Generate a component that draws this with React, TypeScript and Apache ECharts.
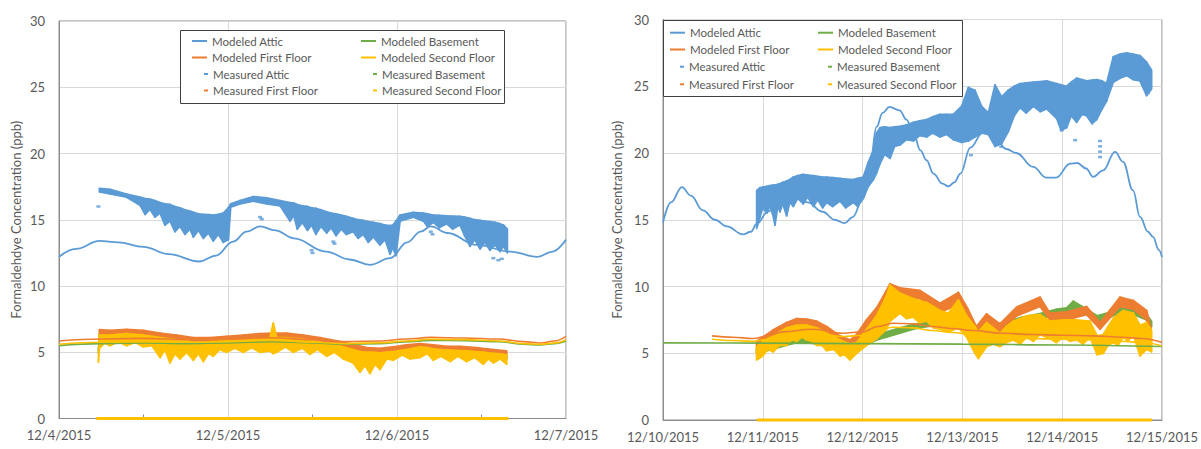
import React, { useEffect, useRef } from "react";
import * as echarts from "echarts";

// ---------- shared ----------
const seriesNames = [
  "Modeled Attic", "Modeled Basement", "Modeled First Floor", "Modeled Second Floor",
  "Measured Attic", "Measured Basement", "Measured First Floor", "Measured Second Floor",
];
const yAxisTitle = "Formaldehdye Concentration (ppb)";
const leftXTickLabels = ["12/4/2015", "12/5/2015", "12/6/2015", "12/7/2015"];
const rightXTickLabels = ["12/10/2015", "12/11/2015", "12/12/2015", "12/13/2015", "12/14/2015", "12/15/2015"];

// ---------- LEFT chart (x = day of Dec 2015) ----------
const modeledAtticL = [[4.0,12.2],[4.1,12.8],[4.24,13.4],[4.35,13.3],[4.5,12.95],[4.65,12.4],[4.83,11.85],[4.93,12.3],[5.03,13.35],[5.11,14.1],[5.19,14.5],[5.28,14.2],[5.39,13.6],[5.58,12.6],[5.72,12.0],[5.84,11.6],[5.96,12.1],[6.06,13.3],[6.14,14.1],[6.2,14.5],[6.3,14.0],[6.47,13.1],[6.67,12.6],[6.83,12.2],[6.92,12.6],[7.0,13.5]];
const modeledBasementL = [[4.0,5.5],[4.25,5.65],[4.5,5.7],[4.75,5.65],[5.0,5.7],[5.25,5.8],[5.5,5.7],[5.7,5.6],[5.9,5.65],[6.05,5.78],[6.2,5.9],[6.4,5.88],[6.6,5.8],[6.75,5.6],[6.85,5.55],[6.93,5.65],[7.0,5.85]];
const modeledFirstL = [[4.0,5.85],[4.25,6.0],[4.5,6.05],[4.75,5.95],[5.0,6.0],[5.25,6.1],[5.5,5.95],[5.7,5.8],[5.9,5.85],[6.05,6.0],[6.2,6.12],[6.4,6.08],[6.6,6.0],[6.75,5.8],[6.85,5.7],[6.93,5.85],[7.0,6.2]];
const modeledSecondL = [[4.0,5.6],[4.25,5.75],[4.5,5.8],[4.75,5.75],[5.0,5.8],[5.25,5.9],[5.5,5.75],[5.7,5.65],[5.9,5.72],[6.05,5.85],[6.2,5.98],[6.4,5.95],[6.6,5.85],[6.75,5.65],[6.85,5.6],[6.93,5.7],[7.0,5.95]];

// measured: [day, high, low]
const measuredAtticL = [[4.239,17.37,17.1],[4.302,17.3,16.95],[4.40,16.94,16.7],[4.479,16.7,16.1],[4.51,16.6,15.4],[4.538,16.55,15.8],[4.568,16.45,15.2],[4.598,16.3,15.5],[4.627,16.2,14.6],[4.657,16.15,14.9],[4.686,16.0,14.1],[4.716,15.9,14.5],[4.745,15.75,13.9],[4.775,15.65,14.3],[4.795,15.55,13.7],[4.825,15.45,14.2],[4.854,15.4,13.6],[4.884,15.38,14.0],[4.913,15.35,13.4],[4.943,15.4,13.9],[4.972,15.5,13.3],[5.002,15.9,13.5],[5.016,16.2,15.95],[5.071,16.45,16.2],[5.15,16.75,16.4],[5.229,16.65,16.2],[5.308,16.45,16.05],[5.367,16.3,14.9],[5.39,16.25,15.3],[5.41,16.15,14.3],[5.44,16.05,14.8],[5.47,16.0,14.2],[5.495,15.9,14.6],[5.52,15.85,13.9],[5.55,15.75,14.5],[5.584,15.6,14.0],[5.61,15.5,14.4],[5.64,15.45,13.8],[5.67,15.35,14.3],[5.70,15.25,13.9],[5.741,15.1,14.1],[5.77,15.0,13.6],[5.80,14.95,13.9],[5.83,14.85,13.3],[5.86,14.8,13.7],[5.899,14.7,13.1],[5.93,14.6,13.5],[5.959,14.55,12.4],[5.975,14.6,12.9],[5.994,14.9,12.3],[6.018,15.35,14.9],[6.097,15.55,15.2],[6.156,15.5,14.9],[6.18,15.45,14.5],[6.215,15.35,14.8],[6.25,15.33,14.4],[6.294,15.3,14.7],[6.33,15.28,14.3],[6.373,15.25,14.6],[6.40,15.2,13.8],[6.432,15.1,13.0],[6.46,15.0,13.5],[6.491,14.95,12.8],[6.52,14.9,13.3],[6.55,14.85,12.7],[6.58,14.8,13.1],[6.609,14.7,12.6],[6.63,14.6,13.0],[6.653,14.3,12.5]];
const atticOutliersL = [[4.233,16.0],[5.19,15.2],[5.2,15.05],[5.495,12.7],[5.5,12.5],[5.623,13.35],[5.63,13.2],[6.2,14.1],[6.21,13.9],[6.57,12.1],[6.6,11.95],[6.62,12.05]];
const measuredBasementL = [[4.233,5.2,4.95],[4.24,6.3,6.0],[4.4,6.35,6.1],[4.6,6.1,5.85],[4.8,5.75,5.5],[5.0,5.85,5.6],[5.2,6.0,5.75],[5.35,6.05,5.8],[5.55,5.7,5.45],[5.75,5.25,5.0],[5.9,4.95,4.7],[6.05,5.2,4.95],[6.2,5.2,4.95],[6.4,5.1,4.85],[6.65,4.75,4.5]];
const measuredFirstL = [[4.239,6.7,6.2],[4.302,6.65,6.3],[4.40,6.72,6.35],[4.499,6.65,6.3],[4.598,6.45,6.1],[4.696,6.3,5.95],[4.795,6.1,5.75],[4.893,6.1,5.8],[4.992,6.2,5.85],[5.091,6.3,5.95],[5.189,6.4,6.0],[5.268,6.45,6.05],[5.347,6.45,6.05],[5.446,6.3,5.9],[5.544,6.1,5.7],[5.643,5.85,5.5],[5.741,5.6,5.25],[5.82,5.35,5.0],[5.899,5.3,4.95],[5.978,5.4,5.05],[6.057,5.55,5.2],[6.136,5.65,5.3],[6.215,5.55,5.2],[6.294,5.45,5.1],[6.373,5.45,5.1],[6.471,5.35,5.0],[6.57,5.2,4.85],[6.649,5.1,4.75]];
const measuredSecondL = [[4.233,4.45,4.25],[4.239,6.3,5.3],[4.27,6.3,5.7],[4.302,6.3,5.5],[4.35,6.35,5.8],[4.40,6.4,5.5],[4.45,6.35,5.75],[4.499,6.3,5.4],[4.55,6.2,5.5],[4.598,6.1,4.6],[4.627,6.05,5.2],[4.657,6.0,4.2],[4.686,5.95,4.9],[4.716,5.9,4.5],[4.755,5.85,5.0],[4.795,5.75,4.4],[4.825,5.75,4.9],[4.854,5.75,4.3],[4.884,5.78,4.9],[4.913,5.8,4.7],[4.95,5.82,5.2],[4.992,5.85,5.0],[5.04,5.9,5.3],[5.091,5.95,5.0],[5.14,6.0,5.35],[5.189,6.05,5.0],[5.248,6.1,5.1],[5.268,7.2,4.9],[5.288,6.1,5.0],[5.34,6.1,5.4],[5.387,6.05,5.0],[5.44,6.0,5.3],[5.485,5.9,4.85],[5.53,5.8,5.2],[5.584,5.65,4.7],[5.63,5.55,5.0],[5.682,5.4,4.5],[5.741,5.2,4.2],[5.781,5.05,3.5],[5.81,5.0,4.0],[5.84,5.0,3.4],[5.87,4.98,4.1],[5.899,4.95,3.7],[5.94,5.0,4.5],[5.978,5.05,4.4],[6.03,5.15,4.8],[6.077,5.25,4.5],[6.136,5.4,4.6],[6.18,5.35,4.9],[6.215,5.25,4.4],[6.26,5.2,4.7],[6.314,5.15,4.3],[6.36,5.12,4.7],[6.412,5.1,4.3],[6.46,5.05,4.6],[6.511,5.0,4.1],[6.54,4.95,4.5],[6.57,4.92,4.2],[6.61,4.88,4.5],[6.649,4.8,4.1]];
const zeroRunL = [[4.22,0],[6.66,0]];

// ---------- RIGHT chart ----------
const modeledAtticR = [[10.0,14.8],[10.08,16.3],[10.19,17.45],[10.28,16.8],[10.4,15.7],[10.52,15.0],[10.64,14.5],[10.8,13.9],[10.88,14.1],[10.94,14.7],[11.05,15.6],[11.15,16.2],[11.3,16.8],[11.45,16.3],[11.6,15.6],[11.72,15.0],[11.82,14.75],[11.9,15.2],[12.01,16.7],[12.08,19.5],[12.14,21.95],[12.2,23.0],[12.27,23.45],[12.37,23.2],[12.44,22.5],[12.51,21.46],[12.58,20.2],[12.64,19.46],[12.71,18.46],[12.8,17.7],[12.86,17.5],[12.92,17.8],[12.98,18.46],[13.08,20.4],[13.2,21.5],[13.31,21.3],[13.44,20.3],[13.54,20.0],[13.71,18.96],[13.84,18.16],[13.94,18.16],[14.08,19.2],[14.15,19.25],[14.24,18.84],[14.31,18.21],[14.41,18.7],[14.53,20.08],[14.61,19.34],[14.71,17.2],[14.78,15.22],[14.86,14.1],[14.91,13.72],[14.97,12.72],[15.0,12.2]];
const modeledBasementR = [[10.0,5.78],[11.0,5.76],[12.0,5.72],[13.0,5.68],[14.0,5.62],[15.0,5.5]];
const modeledFirstR = [[10.49,6.3],[10.7,6.2],[10.9,6.1],[11.05,6.3],[11.2,6.6],[11.5,6.8],[11.8,6.5],[12.0,6.6],[12.15,7.0],[12.3,7.25],[12.5,7.2],[12.7,7.0],[12.9,6.85],[13.1,6.7],[13.4,6.5],[13.7,6.4],[14.0,6.35],[14.3,6.3],[14.6,6.2],[14.8,6.1],[15.0,5.8]];
const modeledSecondR = [[10.49,6.05],[10.7,5.95],[10.9,5.9],[11.05,6.05],[11.2,6.35],[11.5,6.55],[11.8,6.25],[12.0,6.35],[12.15,6.7],[12.3,6.95],[12.5,6.9],[12.7,6.7],[12.9,6.55],[13.1,6.4],[13.4,6.2],[13.7,6.1],[14.0,6.05],[14.3,6.0],[14.6,5.9],[14.8,5.8],[15.0,5.55]];

const measuredAtticR = [[10.939,17.2,14.35],[10.972,17.4,15.2],[11.0,17.45,15.9],[11.039,17.5,15.5],[11.07,17.55,16.0],[11.1,17.6,15.4],[11.122,17.6,14.6],[11.15,17.65,16.0],[11.172,17.7,15.6],[11.2,17.8,16.2],[11.239,17.9,15.3],[11.27,18.0,16.3],[11.306,18.2,16.0],[11.35,18.3,16.6],[11.406,18.4,16.2],[11.45,18.35,16.7],[11.507,18.3,16.0],[11.55,18.25,16.5],[11.6,18.2,15.9],[11.64,18.2,16.3],[11.7,18.15,16.0],[11.774,18.1,16.4],[11.83,18.05,15.9],[11.907,18.0,16.3],[11.95,18.1,16.0],[12.007,18.2,16.6],[12.057,19.3,17.5],[12.108,20.2,18.0],[12.14,21.5,18.5],[12.175,21.9,19.2],[12.22,21.95,19.9],[12.275,21.9,19.6],[12.32,21.95,20.5],[12.375,22.0,20.6],[12.44,22.1,21.0],[12.509,22.3,20.9],[12.57,22.4,21.3],[12.642,22.5,21.2],[12.7,22.7,21.5],[12.776,22.9,21.2],[12.84,22.9,21.4],[12.909,22.9,21.0],[12.993,23.5,20.8],[13.06,24.9,20.9],[13.126,24.7,21.2],[13.193,23.5,21.5],[13.26,23.0,21.4],[13.327,25.1,20.5],[13.394,24.2,20.7],[13.46,24.7,21.6],[13.52,25.0,22.8],[13.577,25.2,23.4],[13.64,25.25,23.0],[13.711,25.3,23.5],[13.78,25.35,23.1],[13.844,25.4,23.3],[13.944,25.2,22.6],[13.99,25.1,21.7],[14.045,25.0,21.9],[14.09,25.3,22.8],[14.145,25.6,22.3],[14.2,25.5,22.9],[14.245,25.4,22.8],[14.3,25.45,22.2],[14.345,25.5,22.5],[14.4,25.4,23.3],[14.445,25.2,23.9],[14.512,27.2,25.3],[14.58,27.4,25.6],[14.646,27.5,25.8],[14.71,27.4,25.5],[14.78,27.3,25.4],[14.846,26.8,24.3],[14.896,26.2,24.8]];
const atticOutliersR = [[13.086,19.84],[13.39,20.46],[13.995,21.7],[14.13,20.96],[14.38,20.9],[14.38,20.5],[14.38,20.1],[14.38,19.7],[14.86,24.5]];
const measuredBasementR = [[10.938,5.3,5.0],[11.105,5.6,5.3],[11.239,5.9,5.6],[11.339,6.1,5.8],[11.44,6.1,5.8],[11.54,6.0,5.7],[11.64,5.9,5.55],[11.774,5.6,5.3],[11.874,5.4,5.1],[11.94,5.6,5.3],[12.04,5.95,5.65],[12.14,6.3,6.0],[12.24,6.6,6.2],[12.374,6.9,6.5],[12.508,7.15,6.8],[12.642,7.35,7.0],[12.776,7.45,7.1],[12.9,7.3,6.9],[13.043,7.2,6.8],[13.2,7.0,6.6],[13.4,7.3,6.9],[13.6,7.7,7.3],[13.8,8.0,7.6],[13.95,8.3,7.9],[14.045,8.4,8.0],[14.112,8.9,8.2],[14.2,8.5,8.1],[14.35,7.8,7.4],[14.45,8.0,7.6],[14.6,8.5,8.1],[14.713,8.3,7.9],[14.846,7.9,7.5],[14.896,7.4,7.0]];
const measuredFirstR = [[10.938,5.9,5.0],[11.105,6.75,6.2],[11.239,7.3,6.8],[11.339,7.6,7.1],[11.44,7.55,7.0],[11.54,7.4,6.9],[11.64,7.0,6.5],[11.774,6.3,5.8],[11.874,6.0,5.4],[11.94,6.4,5.8],[12.04,7.5,6.9],[12.14,8.4,7.9],[12.24,9.7,9.0],[12.274,10.2,9.3],[12.374,9.9,9.3],[12.575,9.7,9.1],[12.776,8.75,8.1],[12.96,9.55,8.6],[13.05,8.4,7.6],[13.14,7.0,6.3],[13.243,7.95,7.3],[13.377,7.2,6.6],[13.544,8.45,7.8],[13.778,9.2,8.5],[13.878,8.0,7.5],[14.045,8.1,7.5],[14.245,8.5,7.9],[14.38,7.3,6.8],[14.58,9.2,8.5],[14.713,8.95,8.3],[14.846,8.2,7.5],[14.89,6.9,6.4]];
const measuredSecondR = [[10.938,5.5,4.5],[11.0,5.9,4.8],[11.05,6.1,5.3],[11.105,6.3,5.1],[11.17,6.6,5.6],[11.239,6.9,5.6],[11.29,7.0,6.0],[11.339,7.1,5.9],[11.39,7.1,6.2],[11.44,7.1,6.0],[11.49,7.0,5.9],[11.54,6.9,5.6],[11.59,6.7,5.6],[11.64,6.5,5.2],[11.71,6.25,5.3],[11.774,6.0,4.8],[11.82,5.85,4.9],[11.874,5.7,4.5],[11.94,5.8,5.0],[12.04,6.8,5.6],[12.14,7.8,6.1],[12.24,9.3,6.8],[12.274,10.1,7.4],[12.374,9.5,8.0],[12.44,9.3,7.6],[12.508,9.1,7.7],[12.57,8.95,7.3],[12.642,8.8,7.4],[12.71,8.5,6.9],[12.776,8.2,6.8],[12.86,8.0,6.6],[12.96,9.0,6.9],[13.043,7.8,6.2],[13.126,7.0,5.0],[13.16,6.6,4.6],[13.243,7.3,5.5],[13.31,6.9,5.7],[13.377,6.5,5.5],[13.44,7.0,5.8],[13.51,7.4,6.0],[13.58,7.6,5.7],[13.644,7.8,6.2],[13.71,7.85,5.9],[13.778,7.9,6.4],[13.878,7.4,6.1],[13.94,7.45,5.8],[14.011,7.5,6.2],[14.08,7.5,5.9],[14.145,7.5,6.0],[14.21,7.45,5.7],[14.279,7.4,6.2],[14.35,6.3,4.9],[14.412,6.4,5.0],[14.46,7.0,5.6],[14.512,7.6,5.8],[14.56,7.9,5.6],[14.613,8.2,6.2],[14.66,8.1,5.9],[14.713,8.0,6.4],[14.78,7.1,4.8],[14.846,7.3,5.3],[14.896,6.7,5.1]];
const zeroRunR = [[10.94,0],[14.9,0]];

// ---------- styling ----------
const FONT = "Lato, 'Open Sans', sans-serif";
const TEXT = "#595959";
const GRIDLINE = "#d9d9d9";
const FRAME = "#8c8c8c";
const COLORS = ["#5B9BD5", "#70AD47", "#ED7D31", "#FFC000", "#5B9BD5", "#70AD47", "#ED7D31", "#FFC000"];

function bandItems(arr: number[][]) {
  const out: number[][] = [];
  for (let i = 0; i < arr.length - 1; i++) {
    out.push([arr[i][0], arr[i][1], arr[i][2], arr[i + 1][0], arr[i + 1][1], arr[i + 1][2]]);
  }
  return out;
}

function bandSeries(name: string, color: string, arr: number[][], idx: number) {
  return {
    type: "custom", name, xAxisIndex: idx, yAxisIndex: idx, silent: true,
    itemStyle: { color },
    data: bandItems(arr),
    encode: { x: [0, 3], y: [1, 2, 4, 5] },
    renderItem: (_p: any, api: any) => {
      const a = api.coord([api.value(0), api.value(1)]);
      const b = api.coord([api.value(3), api.value(4)]);
      const c = api.coord([api.value(3), api.value(5)]);
      const d = api.coord([api.value(0), api.value(2)]);
      return { type: "polygon", shape: { points: [a, b, c, d] }, style: { fill: color, stroke: color, lineWidth: 1.8, lineJoin: "round" } };
    },
  };
}

function lineSeries(name: string, color: string, data: number[][], idx: number, width = 1.6) {
  return {
    type: "line", name, xAxisIndex: idx, yAxisIndex: idx, data, silent: true,
    symbol: "none", showSymbol: false, smooth: 0.4, smoothMonotone: "x",
    lineStyle: { color, width }, itemStyle: { color },
  };
}

function scatterSeries(name: string, color: string, data: number[][], idx: number) {
  return {
    type: "scatter", name, xAxisIndex: idx, yAxisIndex: idx, data, silent: true,
    symbol: "rect", symbolSize: [4, 2.5], itemStyle: { color },
  };
}

function zeroSeries(data: number[][], idx: number) {
  return {
    type: "line", name: "zero", xAxisIndex: idx, yAxisIndex: idx, data, silent: true, clip: false,
    symbol: "none", lineStyle: { color: "#FFC000", width: 3 }, z: 3,
  };
}

function legendItems(cols: number[][], rows: number[]) {
  const out: any[] = [];
  seriesNames.forEach((name, i) => {
    const col = i % 2;
    const row = Math.floor(i / 2);
    const measured = i >= 4;
    out.push({
      show: true, selectedMode: false, padding: 0, itemGap: 0,
      data: [name], icon: "rect",
      itemWidth: measured ? 4 : 15, itemHeight: 2,
      left: measured ? cols[col][1] : cols[col][0],
      top: rows[row] - 6,
      textStyle: { color: TEXT, fontSize: 11.5, fontFamily: FONT },
    });
  });
  return out;
}

function xAxis(idx: number, min: number, max: number, labels: string[], minor: boolean) {
  return {
    type: "value", gridIndex: idx, min, max, interval: 1,
    axisLine: { show: true, lineStyle: { color: FRAME, width: 1 } },
    axisTick: { show: false, inside: true },
    minorTick: { show: minor, splitNumber: 2, length: 4, lineStyle: { color: FRAME } },
    splitLine: { show: true, lineStyle: { color: GRIDLINE, width: 1 } },
    axisLabel: {
      color: TEXT, fontSize: 13, fontFamily: FONT, margin: 10,
      showMinLabel: true, showMaxLabel: true,
      formatter: (v: number) => labels[Math.round(v - min)] ?? "",
    },
  };
}

function yAxis(idx: number, nameGap: number) {
  return {
    type: "value", gridIndex: idx, min: 0, max: 30, interval: 5,
    name: yAxisTitle, nameLocation: "middle", nameGap,
    nameTextStyle: { color: TEXT, fontSize: 13, fontFamily: FONT },
    axisLine: { show: true, lineStyle: { color: FRAME, width: 1 } },
    axisTick: { show: false },
    splitLine: { show: true, lineStyle: { color: GRIDLINE, width: 1 } },
    axisLabel: { color: TEXT, fontSize: 13, fontFamily: FONT, margin: 14 },
  };
}

function chartSeries(idx: number, sets: any) {
  return [
    lineSeries(seriesNames[0], COLORS[0], sets.mA, idx, 1.8),
    lineSeries(seriesNames[1], COLORS[1], sets.mB, idx),
    lineSeries(seriesNames[2], COLORS[2], sets.mF, idx),
    lineSeries(seriesNames[3], COLORS[3], sets.mS, idx),
    bandSeries(seriesNames[4], COLORS[4], sets.xA, idx),
    scatterSeries(seriesNames[4], COLORS[4], sets.oA, idx),
    bandSeries(seriesNames[5], COLORS[5], sets.xB, idx),
    bandSeries(seriesNames[6], COLORS[6], sets.xF, idx),
    bandSeries(seriesNames[7], COLORS[7], sets.xS, idx),
    zeroSeries(sets.z, idx),
  ];
}

export default function App() {
  const ref = useRef<HTMLDivElement>(null);
  useEffect(() => {
    if (!ref.current) return;
    const chart = echarts.init(ref.current, undefined, { renderer: "svg" });
    const option: any = {
      animation: false,
      backgroundColor: "#ffffff",
      textStyle: { fontFamily: FONT },
      grid: [
        { left: 59, top: 21, width: 507, height: 397.5, show: true, borderColor: FRAME, borderWidth: 1 },
        { left: 663, top: 19.5, width: 499, height: 400.5, show: true, borderColor: FRAME, borderWidth: 1 },
      ],
      xAxis: [xAxis(0, 4, 7, leftXTickLabels, true), xAxis(1, 10, 15, rightXTickLabels, false)],
      yAxis: [yAxis(0, 37), yAxis(1, 40)],
      legend: [
        ...legendItems([[192, 204], [361, 373]], [41, 57.5, 74, 90.5]),
        ...legendItems([[670, 680], [818, 828]], [32.7, 49.5, 66.7, 84.3]),
      ],
      graphic: [
        { type: "rect", left: 180, top: 30, shape: { width: 324, height: 73 }, style: { fill: "#fff", stroke: "#404040", lineWidth: 1 }, z: 3 },
        { type: "rect", left: 663, top: 20, shape: { width: 299, height: 76 }, style: { fill: "#fff", stroke: "#404040", lineWidth: 1 }, z: 3 },
      ],
      series: [
        ...chartSeries(0, { mA: modeledAtticL, mB: modeledBasementL, mF: modeledFirstL, mS: modeledSecondL, xA: measuredAtticL, oA: atticOutliersL, xB: measuredBasementL, xF: measuredFirstL, xS: measuredSecondL, z: zeroRunL }),
        ...chartSeries(1, { mA: modeledAtticR, mB: modeledBasementR, mF: modeledFirstR, mS: modeledSecondR, xA: measuredAtticR, oA: atticOutliersR, xB: measuredBasementR, xF: measuredFirstR, xS: measuredSecondR, z: zeroRunR }),
      ],
    };
    chart.setOption(option);
    return () => chart.dispose();
  }, []);
  return <div ref={ref} style={{ position: "fixed", left: 0, top: 0, width: 1201, height: 449, background: "#fff" }} />;
}
